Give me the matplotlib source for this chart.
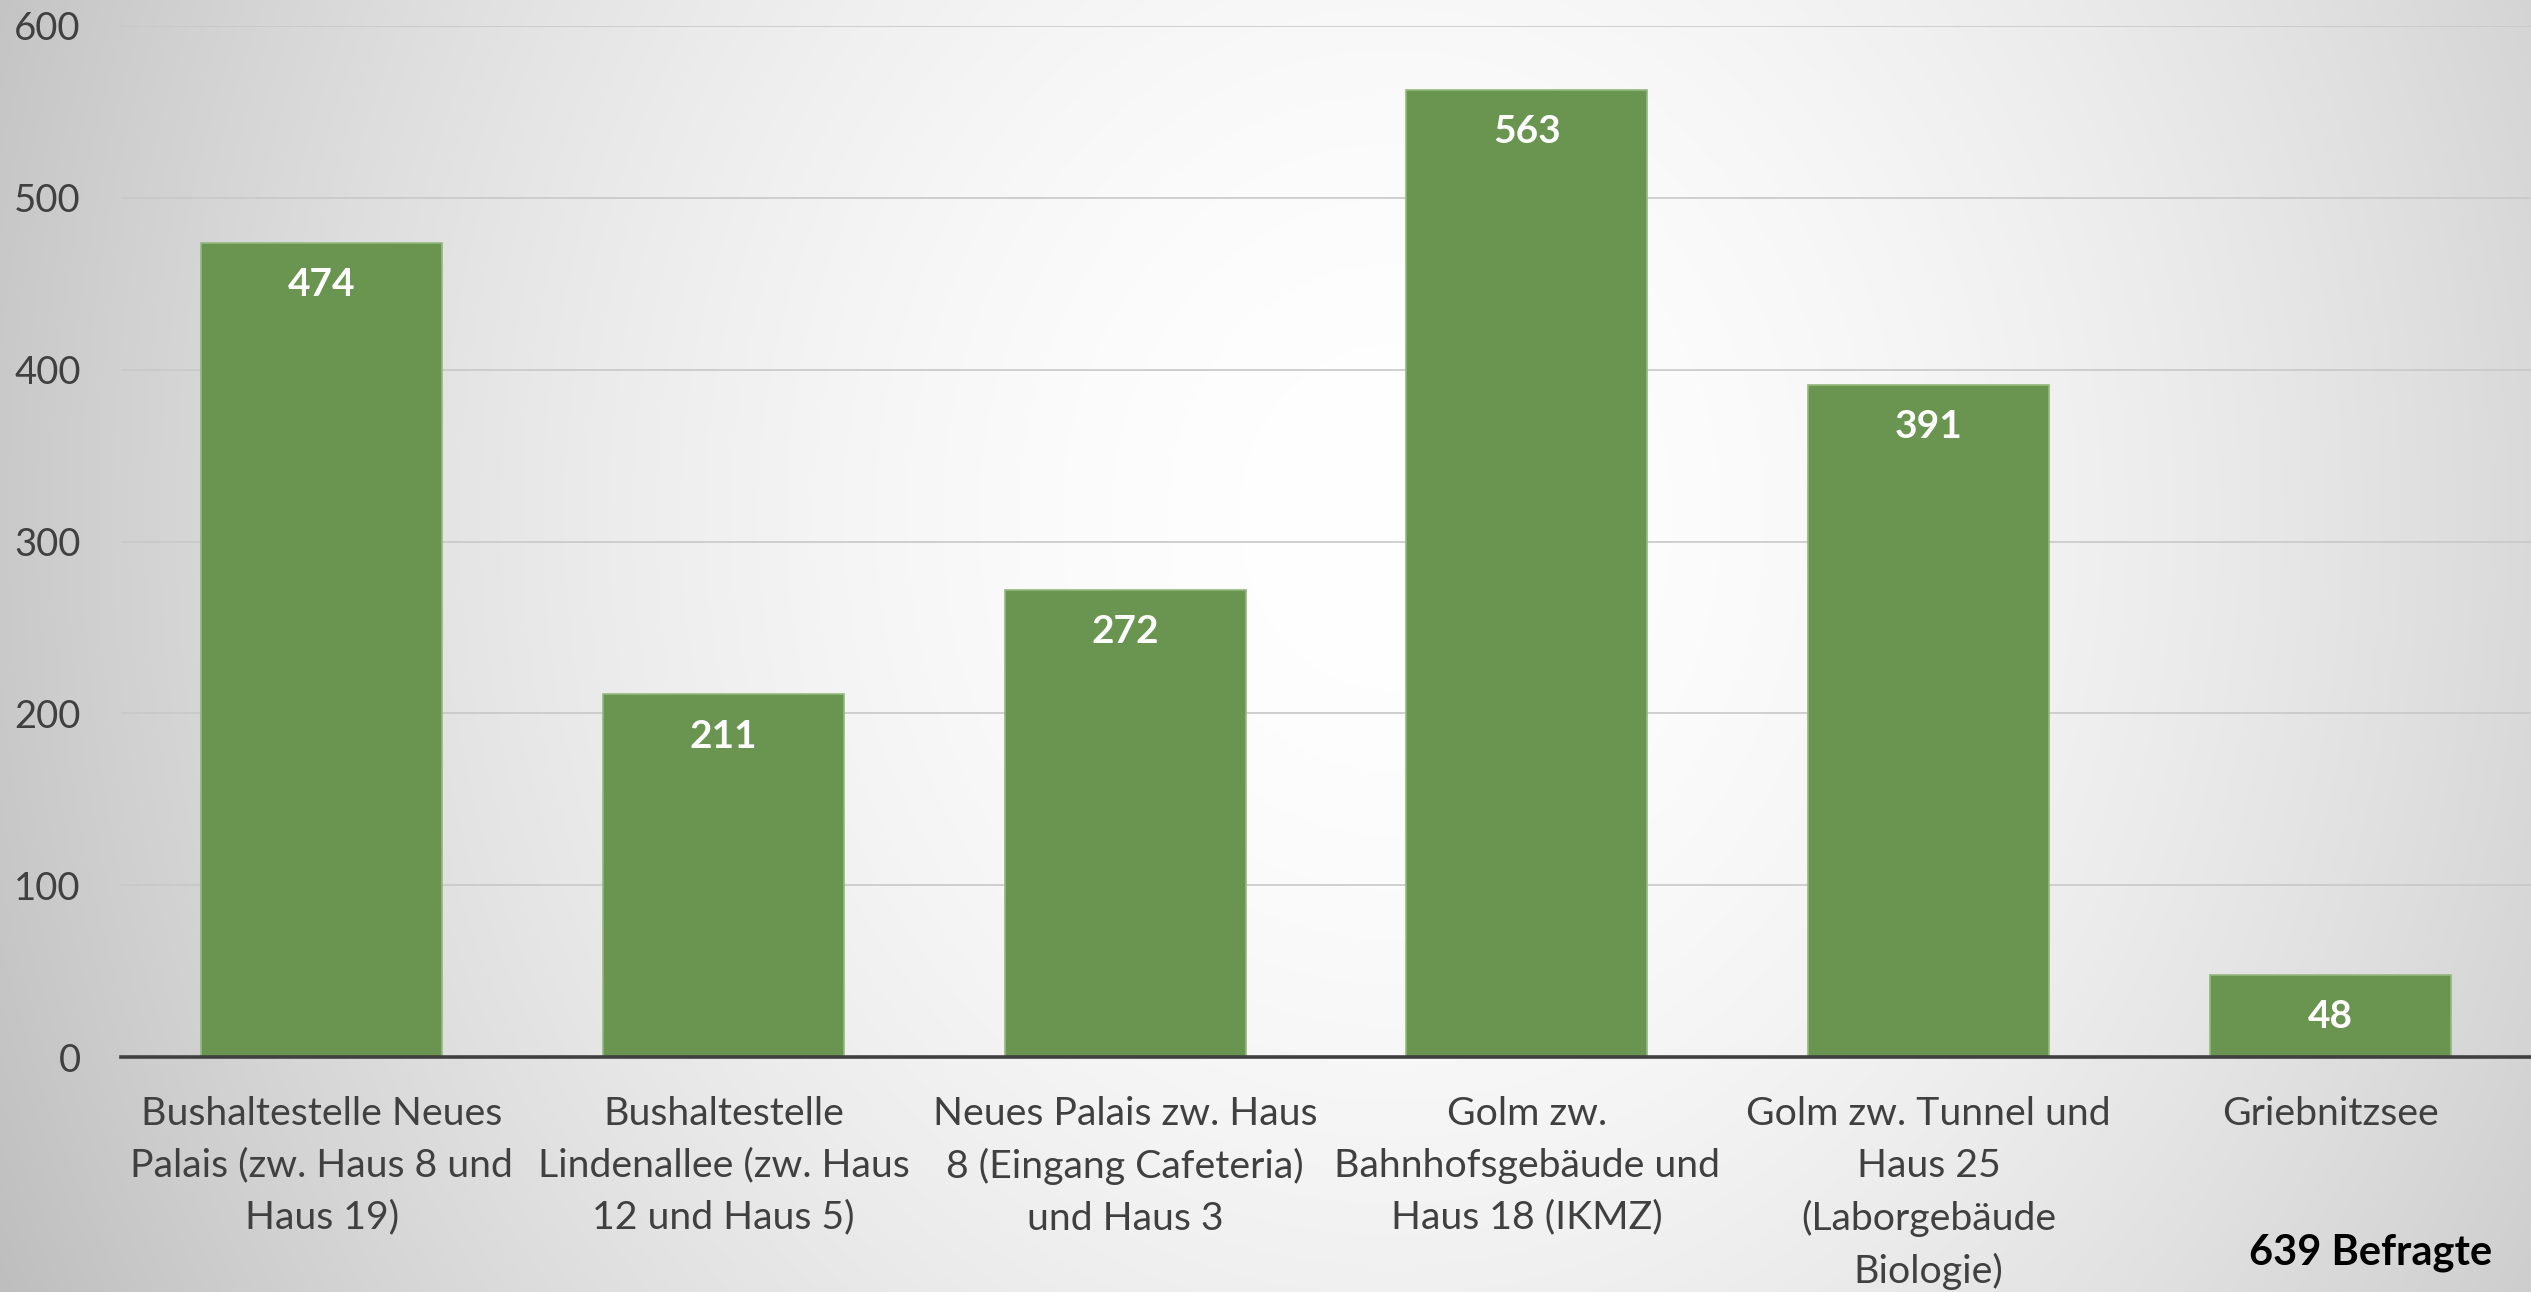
import numpy as np
import matplotlib
matplotlib.use("Agg")
import matplotlib.pyplot as plt

categories = [
    "Bushaltestelle Neues\nPalais (zw. Haus 8 und\nHaus 19)",
    "Bushaltestelle\nLindenallee (zw. Haus\n12 und Haus 5)",
    "Neues Palais zw. Haus\n8 (Eingang Cafeteria)\nund Haus 3",
    "Golm zw.\nBahnhofsgebäude und\nHaus 18 (IKMZ)",
    "Golm zw. Tunnel und\nHaus 25\n(Laborgebäude\nBiologie)",
    "Griebnitzsee",
]
values = [474, 211, 272, 563, 391, 48]
yticks = [0, 100, 200, 300, 400, 500, 600]
note = "639 Befragte"

plt.rcParams["font.family"] = ["Lato", "DejaVu Sans"]

W_PX, H_PX = 2531, 1292
fig = plt.figure(figsize=(W_PX / 100, H_PX / 100), dpi=100)

# background radial gradient
bg = fig.add_axes([0, 0, 1, 1], zorder=0)
bg.axis("off")
gh, gw = 323, 633
yy, xx = np.mgrid[0:1:gh * 1j, 0:1:gw * 1j]
du = xx - 0.55
dv = yy - 0.4
d = np.sqrt(du ** 2 + (0.45 * dv) ** 2)
b = 1 - 0.26 * np.clip(d / 0.62, 0, 1) ** 1.8
img = np.dstack([b, b, b])
bg.imshow(img, extent=[0, 1, 0, 1], aspect="auto", interpolation="bilinear", origin="upper")
bg.set_xlim(0, 1)
bg.set_ylim(0, 1)

ax = fig.add_axes([121 / W_PX, 1 - 1057 / H_PX, 1 - 121 / W_PX, (1057 - 26) / H_PX], zorder=1)
ax.patch.set_alpha(0)

x = np.arange(len(values))
bars = ax.bar(x, values, width=0.6, color="#6a9550", edgecolor="#93b87e", linewidth=1.2, zorder=2)

for xi, v in zip(x, values):
    ax.annotate(str(v), xy=(xi, v), xytext=(0, -30), textcoords="offset points",
                ha="center", va="center", color="white", fontsize=28, fontweight="bold", zorder=3)

ax.set_xlim(-0.5, len(values) - 0.5)
ax.set_ylim(0, 600)
ax.set_yticks(yticks)
ax.set_yticklabels([str(t) for t in yticks])
ax.set_xticks(x)
ax.set_xticklabels(categories, linespacing=1.54)
ax.tick_params(axis="y", length=0, pad=29, labelsize=27.5, labelcolor="#404040")
ax.tick_params(axis="x", length=0, pad=28, labelsize=28.3, labelcolor="#404040")
ax.yaxis.grid(True, color="#c8c8c8", linewidth=1.2, zorder=0)
ax.set_axisbelow(True)
for s in ["left", "right", "top"]:
    ax.spines[s].set_visible(False)
ax.spines["bottom"].set_color("#404040")
ax.spines["bottom"].set_linewidth(2.6)
ax.spines["bottom"].set_zorder(4)

fig.text(2371 / W_PX, 1 - 1253 / H_PX, note, ha="center", va="center",
         fontsize=30, fontweight="bold", color="black")

fig.savefig("out.png", dpi=100)
